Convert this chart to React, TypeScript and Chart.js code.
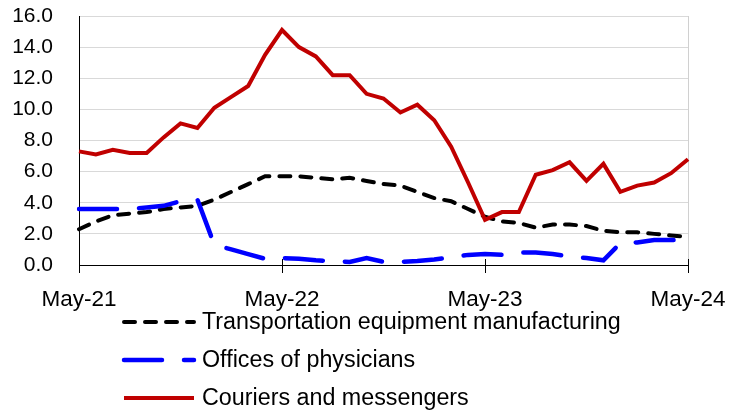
import React, { useEffect, useRef } from 'react';
import { Chart, registerables } from 'chart.js';

Chart.register(...registerables);

const labels = [
  'May-21', 'Jun-21', 'Jul-21', 'Aug-21', 'Sep-21', 'Oct-21', 'Nov-21', 'Dec-21',
  'Jan-22', 'Feb-22', 'Mar-22', 'Apr-22', 'May-22', 'Jun-22', 'Jul-22', 'Aug-22',
  'Sep-22', 'Oct-22', 'Nov-22', 'Dec-22', 'Jan-23', 'Feb-23', 'Mar-23', 'Apr-23',
  'May-23', 'Jun-23', 'Jul-23', 'Aug-23', 'Sep-23', 'Oct-23', 'Nov-23', 'Dec-23',
  'Jan-24', 'Feb-24', 'Mar-24', 'Apr-24', 'May-24',
];

const transportation = [
  2.3, 2.8, 3.2, 3.3, 3.4, 3.6, 3.7, 3.8, 4.2, 4.7, 5.2, 5.7, 5.7, 5.7, 5.6, 5.5,
  5.6, 5.4, 5.2, 5.1, 4.7, 4.3, 4.1, 3.6, 3.1, 2.8, 2.7, 2.4, 2.6, 2.6, 2.5, 2.2,
  2.1, 2.1, 2.0, 1.9, 1.8,
];

const physicians = [
  3.6, 3.6, 3.6, 3.6, 3.7, 3.8, 4.1, 4.2, 1.3, 1.0, 0.7, 0.4, 0.45, 0.4, 0.3, 0.25,
  0.2, 0.45, 0.2, 0.2, 0.25, 0.35, 0.5, 0.65, 0.7, 0.65, 0.8, 0.8, 0.7, 0.55, 0.45, 0.3,
  1.4, 1.45, 1.6, 1.6, 1.6,
];

const couriers = [
  7.3, 7.1, 7.4, 7.2, 7.2, 8.2, 9.1, 8.8, 10.1, 10.8, 11.5, 13.5, 15.1, 14.0, 13.4, 12.2,
  12.2, 11.0, 10.7, 9.8, 10.3, 9.3, 7.6, 5.3, 2.9, 3.4, 3.4, 5.8, 6.1, 6.6, 5.4, 6.5,
  4.7, 5.1, 5.3, 5.9, 6.8,
];

const seriesNames = [
  'Transportation equipment manufacturing',
  'Offices of physicians',
  'Couriers and messengers',
];

const FONT = "'Liberation Sans', Arial, sans-serif";

const decorPlugin = {
  id: 'decor',
  beforeDatasetsDraw(chart: any) {
    const { ctx, chartArea } = chart;
    const xs = chart.scales.x;
    ctx.save();
    ctx.strokeStyle = '#d0d0d0';
    ctx.lineWidth = 1;
    const rx = Math.round(chartArea.right) + 0.5;
    ctx.beginPath();
    ctx.moveTo(rx, chartArea.top);
    ctx.lineTo(rx, chartArea.bottom);
    ctx.stroke();
    ctx.strokeStyle = '#000';
    for (let i = 0; i < labels.length; i += 12) {
      const px = Math.round(xs.getPixelForValue(i)) + 0.5;
      ctx.beginPath();
      ctx.moveTo(px, chartArea.bottom - 6);
      ctx.lineTo(px, chartArea.bottom + 8);
      ctx.stroke();
    }
    ctx.restore();
  },
  afterDraw(chart: any) {
    const { ctx } = chart;
    const rows = [322, 360, 398];
    ctx.save();
    chart.data.datasets.forEach((ds: any, i: number) => {
      const y = rows[i];
      ctx.strokeStyle = ds.borderColor;
      ctx.lineWidth = ds.borderWidth;
      ctx.lineCap = ds.borderCapStyle || 'butt';
      ctx.setLineDash(ds.borderDash || []);
      ctx.beginPath();
      ctx.moveTo(124, y);
      ctx.lineTo(194, y);
      ctx.stroke();
      ctx.setLineDash([]);
      ctx.fillStyle = '#000';
      ctx.font = `23.3px ${FONT}`;
      ctx.textBaseline = 'middle';
      ctx.textAlign = 'left';
      ctx.fillText(seriesNames[i], 202, y + 1);
    });
    ctx.restore();
  },
};

export default function App() {
  const ref = useRef<HTMLCanvasElement>(null);

  useEffect(() => {
    Chart.defaults.font.family = FONT;
    Chart.defaults.color = '#000';
    const chart = new Chart(ref.current as HTMLCanvasElement, {
      type: 'line',
      data: {
        labels,
        datasets: [
          {
            label: seriesNames[0],
            data: transportation,
            borderColor: '#000000',
            borderWidth: 4,
            borderDash: [11, 10],
            borderCapStyle: 'round',
            pointRadius: 0,
            tension: 0,
            fill: false,
            order: 3,
          },
          {
            label: seriesNames[1],
            data: physicians,
            borderColor: '#0000ff',
            borderWidth: 4.5,
            borderDash: [38, 22],
            borderCapStyle: 'round',
            pointRadius: 0,
            tension: 0,
            fill: false,
            order: 2,
          },
          {
            label: seriesNames[2],
            data: couriers,
            borderColor: '#c00000',
            borderWidth: 4,
            borderJoinStyle: 'miter',
            pointRadius: 0,
            tension: 0,
            fill: false,
            order: 1,
          },
        ],
      } as any,
      options: {
        responsive: false,
        animation: false,
        layout: { autoPadding: false, padding: { left: 0, right: 51, top: 16, bottom: 0 } },
        plugins: { legend: { display: false }, tooltip: { enabled: false } },
        scales: {
          x: {
            grid: { display: false },
            border: { color: '#000', width: 1 },
            ticks: {
              autoSkip: false,
              maxRotation: 0,
              minRotation: 0,
              padding: 13,
              font: { size: 22.5 },
              color: '#000',
              callback: (_v: any, i: number) => (i % 12 === 0 ? labels[i] : ''),
            },
            afterFit: (s: any) => {
              s.height = 146;
              s.paddingLeft = 0;
              s.paddingRight = 0;
              s.paddingTop = 0;
              s.paddingBottom = 0;
            },
          },
          y: {
            min: 0,
            max: 16,
            ticks: {
              stepSize: 2,
              padding: 26,
              font: { size: 21 },
              color: '#000',
              callback: (v: any) => Number(v).toFixed(1),
            },
            grid: { color: '#d9d9d9', drawTicks: false, lineWidth: 1 },
            border: { color: '#000', width: 1 },
            afterFit: (s: any) => {
              s.width = 79;
              s.paddingLeft = 0;
              s.paddingRight = 0;
              s.paddingTop = 0;
              s.paddingBottom = 0;
            },
          },
        },
      } as any,
      plugins: [decorPlugin],
    });
    return () => chart.destroy();
  }, []);

  return (
    <div style={{ position: 'fixed', left: 0, top: 0, width: 739, height: 411, background: '#fff' }}>
      <canvas ref={ref} width={739} height={411} style={{ width: 739, height: 411 }} />
    </div>
  );
}
